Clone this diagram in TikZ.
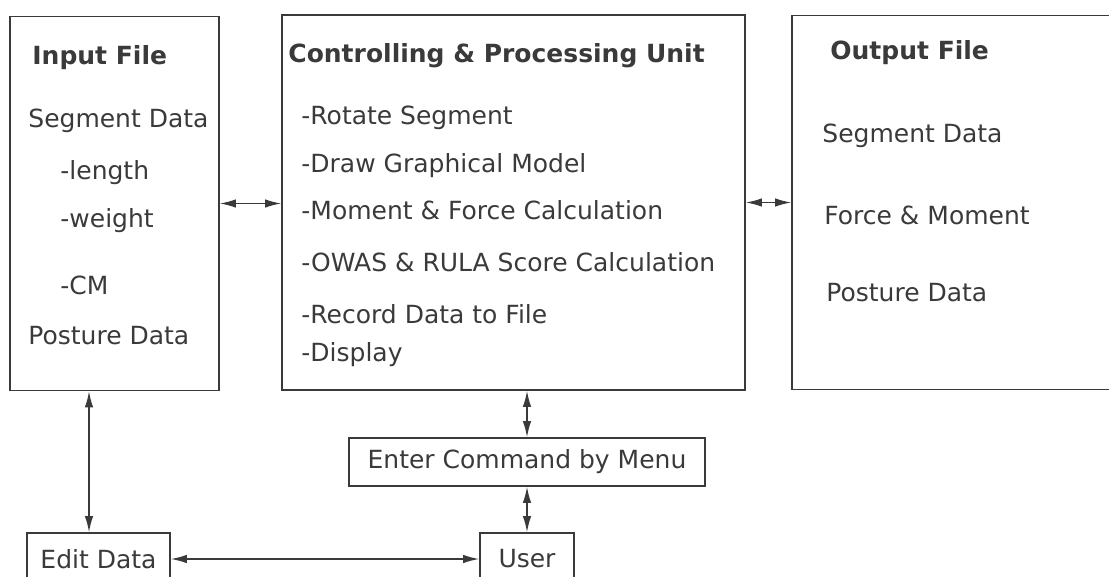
\documentclass[tikz,border=0pt]{standalone}
\usepackage{fontspec}
\setmainfont{DejaVu Sans}
\usetikzlibrary{arrows.meta}
\definecolor{ink}{HTML}{3A3A3A}

\begin{document}
\begin{tikzpicture}[x=0.5pt,y=-0.5pt,
    every node/.style={font=\fontsize{12.5}{15}\selectfont, text=ink},
    box/.style={draw=ink, line width=0.8pt, inner sep=0pt},
    line/.style={anchor=base west, inner sep=0pt},
    head/.style={line, font=\fontsize{12.5}{15}\selectfont\bfseries},
    link/.style={draw=ink, line width=0.7pt,
      {Latex[length=8pt,width=4.2pt]}-{Latex[length=8pt,width=4.2pt]}}]
  \useasboundingbox (0,0) rectangle (1109,577);
  \clip (0,0) rectangle (1109,577);

  % the three main blocks
  \node[box, minimum width=104.5pt, minimum height=187pt] (inbox) at (114.5,203.5) {};
  \node[box, minimum width=231.5pt, minimum height=187.5pt] (ctrl) at (513.5,202.5) {};
  \node[box, minimum width=166.5pt, minimum height=187pt] (outbox) at (958.5,202.5) {};

  % lower row
  \node[box, minimum width=178pt, minimum height=24pt] (enter) at (527,462) {Enter Command by Menu};
  \node[box, minimum width=47pt, minimum height=26pt] (user) at (527,559) {User};
  \node[box, minimum width=71.5pt, minimum height=26pt] (edit) at (98.5,559) {Edit Data};

  % input file
  \node[head] (in-title) at (32,65) {Input File};
  \node[line] (in-seg) at (28,128) {Segment Data};
  \node[line] (in-len) at (60,180) {-length};
  \node[line] (in-wgt) at (60,228) {-weight};
  \node[line] (in-cm) at (60,295) {-CM};
  \node[line] (in-pos) at (28,345) {Posture Data};

  % controlling unit
  \node[head] (ctrl-title) at (288,63) {Controlling \& Processing Unit};
  \foreach \i/\y/\t in {1/125/-Rotate Segment, 2/173/-Draw Graphical Model,
      3/220/-Moment \& Force Calculation, 4/272/-OWAS \& RULA Score Calculation,
      5/324/-Record Data to File, 6/362/-Display}
    \node[line] (ctrl-\i) at (301,\y) {\t};

  % output file
  \node[head] (out-title) at (830,60) {Output File};
  \node[line] (out-seg) at (822,143) {Segment Data};
  \node[line] (out-frc) at (824,225) {Force \& Moment};
  \node[line] (out-pos) at (826,302) {Posture Data};

  % connectors
  \draw[link] (inbox.east) -- (inbox.east -| ctrl.west);
  \draw[link] (ctrl.east) -- (ctrl.east -| outbox.west);
  \draw[link] (ctrl.south -| enter.north) -- (enter.north);
  \draw[link] (enter.south) -- (user.north);
  \draw[link] ([xshift=-4.75pt]edit.north |- inbox.south) -- ([xshift=-4.75pt]edit.north);
  \draw[link] (edit.east) -- (user.west);
\end{tikzpicture}
\end{document}
